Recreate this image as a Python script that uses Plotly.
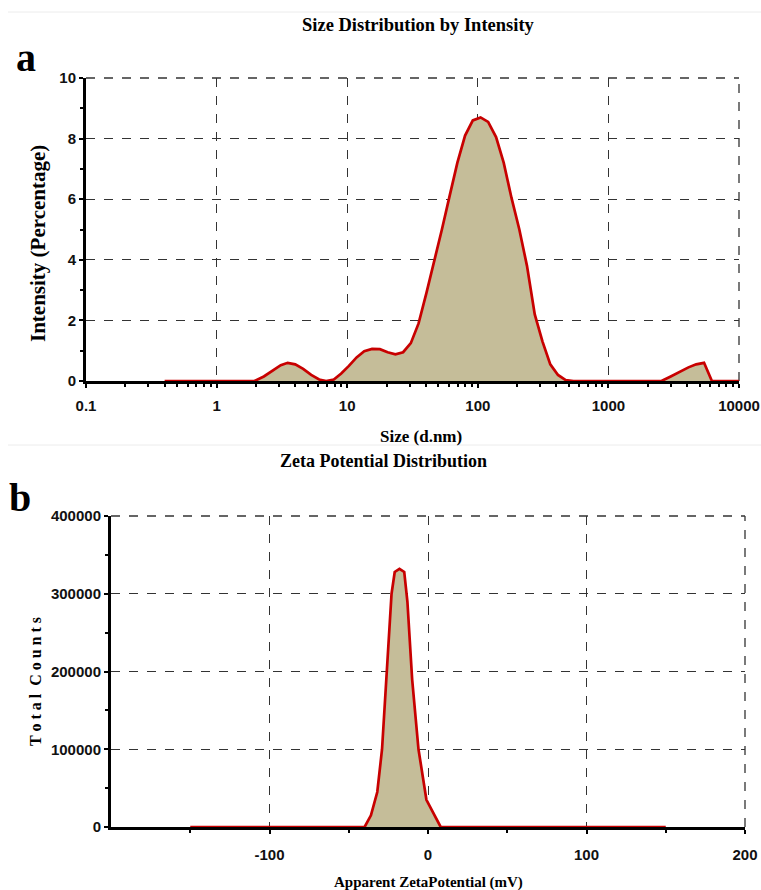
import plotly.graph_objects as go

W, H = 761, 890

# ---- Panel a: size distribution by intensity ----
size_nm = [0.4, 0.5, 0.7, 1.0, 1.5, 1.95, 2.3, 2.7, 3.1, 3.5, 4.0, 4.6, 5.3, 6.1, 6.9,
           7.9, 9.0, 10.3, 11.8, 13.5, 15.5, 17.8, 20.4, 23.4, 26.8, 30.7, 35.2, 40.4,
           46.3, 53.1, 60.8, 69.7, 79.9, 91.6, 105, 120, 138, 158, 181, 208, 238, 273,
           313, 359, 411, 471, 540, 800, 1200, 1800, 2550, 3000, 3500, 4100, 4700, 5400,
           6200, 8000, 10000]
intensity_pct = [0, 0, 0, 0, 0, 0, 0.15, 0.35, 0.52, 0.6, 0.55, 0.4, 0.2, 0.05, 0,
                 0.05, 0.25, 0.5, 0.78, 0.98, 1.06, 1.05, 0.95, 0.88, 0.95, 1.25, 1.9, 2.9,
                 3.9, 5.0, 6.1, 7.2, 8.1, 8.6, 8.7, 8.55, 8.05, 7.2, 6.05, 5.0, 3.8, 2.2,
                 1.3, 0.55, 0.2, 0.03, 0, 0, 0, 0, 0, 0.15, 0.3, 0.45, 0.55, 0.6,
                 0, 0, 0]
size_ticks = [0.1, 1, 10, 100, 1000, 10000]
size_ticktext = ["0.1", "1", "10", "100", "1000", "10000"]
int_ticks = [0, 2, 4, 6, 8, 10]

# ---- Panel b: zeta potential distribution ----
zeta_mv = [-150, -40, -36, -32, -29, -27, -25, -23, -21, -18, -15, -13, -10, -6, -1, 8, 150]
total_counts = [0, 0, 15000, 45000, 100000, 170000, 240000, 300000, 328000, 332000,
                328000, 290000, 190000, 100000, 35000, 0, 0]
zeta_ticks = [-100, 0, 100, 200]
zeta_ticktext = ["-100", "0", "100", "200"]
count_ticks = [0, 100000, 200000, 300000, 400000]
count_ticktext = ["0", "100000", "200000", "300000", "400000"]

RED = "#c80000"
FILL = "#c5bd99"
GRID = "#333333"
serif = "Liberation Serif"
tickfont = dict(family="Liberation Sans Narrow, Liberation Sans, Arial",
                size=15, color="#111111", weight="bold")

fig = go.Figure()
fig.add_trace(go.Scatter(x=size_nm, y=intensity_pct, mode="lines", fill="tozeroy",
                         fillcolor=FILL, line=dict(color=RED, width=2.7),
                         xaxis="x", yaxis="y", showlegend=False))
fig.add_trace(go.Scatter(x=zeta_mv, y=total_counts, mode="lines", fill="tozeroy",
                         fillcolor=FILL, line=dict(color=RED, width=2.7),
                         xaxis="x2", yaxis="y2", showlegend=False))

def px_x(p):
    return p / W

def px_y(p):
    return 1 - p / H

minor_style = dict(ticks="outside", ticklen=3, tickwidth=2, tickcolor="black", showgrid=False)
common_axis = dict(showline=True, linecolor="black", linewidth=3, showgrid=True,
                   gridcolor=GRID, gridwidth=1.3, griddash="dash", zeroline=False,
                   ticks="outside", ticklen=4, tickwidth=2, tickcolor="black",
                   tickfont=tickfont, automargin=False, layer="above traces",
                   ticklabeloverflow="allow")

fig.update_layout(
    width=W, height=H, margin=dict(l=0, r=0, t=0, b=0, pad=0, autoexpand=False),
    paper_bgcolor="white", plot_bgcolor="white",
    xaxis=dict(common_axis, type="log", range=[-1, 4], domain=[px_x(86), px_x(739)],
               tickvals=size_ticks, ticktext=size_ticktext, anchor="y",
               ticklabelstandoff=5,
               minor=dict(minor_style, dtick="D1")),
    yaxis=dict(common_axis, range=[0, 10], domain=[px_y(381), px_y(78)],
               tickvals=int_ticks, anchor="x",
               minor=dict(minor_style, dtick=1)),
    xaxis2=dict(common_axis, range=[-200, 200], domain=[px_x(111), px_x(745)],
                tickvals=zeta_ticks, ticktext=zeta_ticktext, anchor="y2",
                ticklabelstandoff=8,
                minor=dict(minor_style, tickvals=[-150, -50, 50, 150])),
    yaxis2=dict(common_axis, range=[0, 400000], domain=[px_y(827), px_y(516)],
                tickvals=count_ticks, ticktext=count_ticktext, anchor="x2",
                minor=dict(minor_style, dtick=50000)),
)

# dashed frame on the top and right edges (grid lines at range ends)
for xr, yr in (("x", "y"), ("x2", "y2")):
    dash_line = dict(color=GRID, width=1.3, dash="dash")
    fig.add_shape(type="line", xref=f"{xr} domain", yref=f"{yr} domain",
                  x0=0, x1=1, y0=1, y1=1, line=dash_line, layer="below")
    fig.add_shape(type="line", xref=f"{xr} domain", yref=f"{yr} domain",
                  x0=1, x1=1, y0=0, y1=1, line=dash_line, layer="below")

def ann(text, x, y, size, angle=0, family=serif):
    fig.add_annotation(text=text, x=px_x(x), y=px_y(y), xref="paper", yref="paper",
                       showarrow=False, textangle=angle, xanchor="center", yanchor="middle",
                       font=dict(family=family, size=size, color="black", weight="bold"))

ann("Size Distribution by Intensity", 418, 25, 18.5)
ann("a", 26, 57, 40)
ann("Intensity (Percentage)", 38, 244, 21, angle=-90)
ann("Size (d.nm)", 421, 436, 17)
ann("Zeta Potential Distribution", 383, 461, 18)
ann("b", 20, 498, 40)
ann("T o t a l  C o u n t s", 35, 682, 16, angle=-90)
ann("Apparent ZetaPotential (mV)", 428, 882, 15)

# faint page separators
for y in (12, 445):
    fig.add_shape(type="line", xref="paper", yref="paper", x0=px_x(8), x1=1,
                  y0=px_y(y), y1=px_y(y), line=dict(color="#ececec", width=1))

fig.write_html("out.html")
